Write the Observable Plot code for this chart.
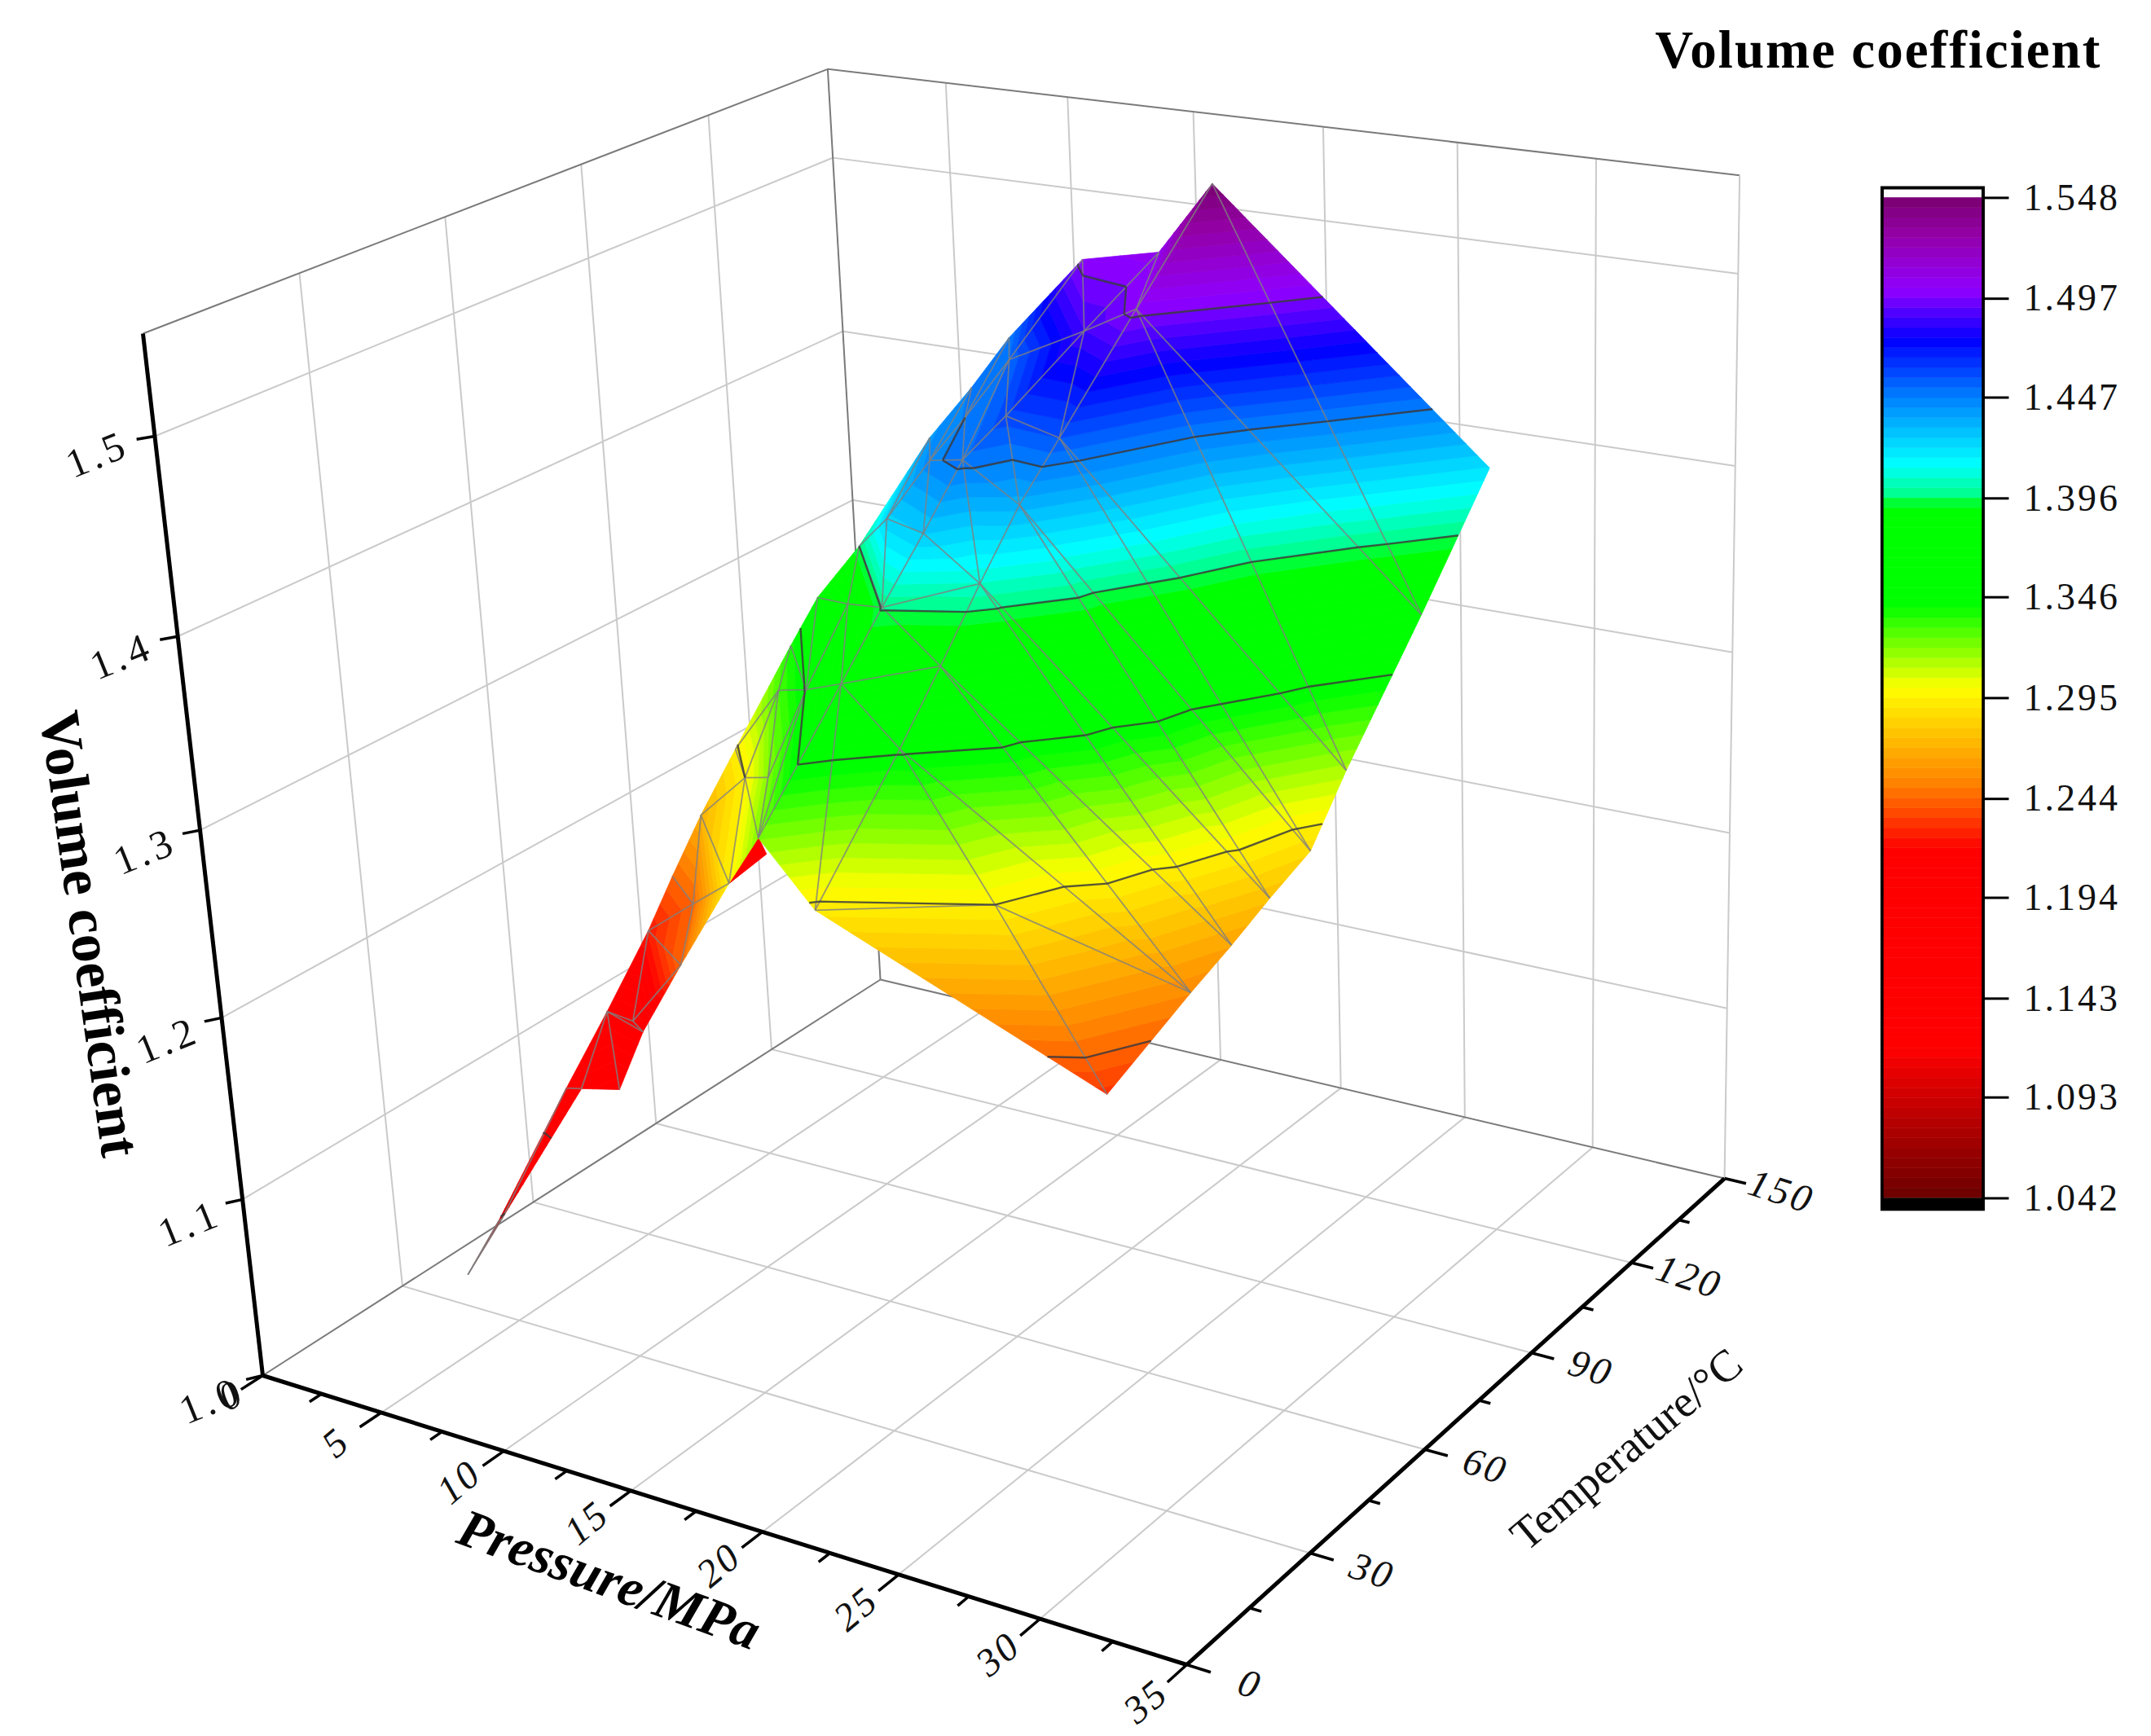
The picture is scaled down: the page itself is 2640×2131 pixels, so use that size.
<!DOCTYPE html>
<html><head><meta charset="utf-8">
<style>html,body{margin:0;padding:0;background:#fff}svg{display:block}</style>
<script src="https://cdn.jsdelivr.net/npm/d3@7"></script>
<script src="https://cdn.jsdelivr.net/npm/@observablehq/plot@0.6"></script>
</head><body><div id="c"></div>
<script>
const pressure=[20.09,29.95,29.93,29.97,30.10,30.08,30.02,29.97,29.80,19.72,19.95,19.92,19.96,20.04,20.06,19.88,24.63,17.55,18.00,17.55,18.01,17.55,17.91,15.14,17.81,17.66,15.12,11.47,13.42,14.35,13.56,11.32,10.85,13.43,15.00,16.21,16.00,13.60,14.52,12.05,12.07,10.14,10.26,9.99,11.91,16.67,14.40,10.17,11.15,11.92,9.99,11.76,11.10,10.22,7.40,7.37,4.89,6.97,5.28,6.57];
const temperature=[119.2,119.5,100.5,79.7,69.2,58.9,49.7,40.0,21.1,101.4,80.0,70.1,59.9,49.6,39.5,20.4,30.9,122.3,99.7,82.8,59.6,52.2,40.2,39.0,21.2,71.5,118.8,122.8,100.7,84.4,71.4,74.2,70.1,110.2,89.0,72.8,63.6,67.8,52.0,59.9,51.1,60.1,50.8,45.1,38.8,20.8,21.9,38.1,28.2,26.1,29.0,21.1,16.7,18.1,15.8,16.8,20.7,73.5,90.7,85.4];
const volume=[1.548,1.421,1.367,1.313,1.286,1.276,1.265,1.255,1.232,1.50,1.457,1.434,1.406,1.377,1.348,1.292,1.295,1.505,1.487,1.46,1.427,1.397,1.374,1.32,1.321,1.45,1.50,1.447,1.447,1.44,1.396,1.36,1.338,1.452,1.447,1.445,1.425,1.37,1.347,1.33,1.295,1.293,1.27,1.244,1.244,1.295,1.244,1.225,1.194,1.194,1.194,1.17,1.175,1.17,1.09,1.09,1.042,1.19,1.19,1.19];
const triangles=[[57,58,59],[54,55,56],[53,55,54],[53,52,55],[50,52,53],[50,51,52],[50,49,51],[50,48,49],[47,48,50],[47,46,48],[48,46,49],[47,44,46],[43,44,47],[42,44,43],[42,45,44],[44,45,46],[42,40,45],[41,40,42],[40,24,45],[40,23,24],[39,23,40],[41,39,40],[32,39,41],[32,38,39],[39,38,23],[38,24,23],[31,38,32],[31,37,38],[37,22,38],[38,22,24],[22,15,24],[22,14,15],[14,16,15],[15,16,8],[14,16,7],[16,8,7],[22,13,14],[21,13,22],[37,21,22],[30,21,37],[31,30,37],[30,36,21],[29,36,30],[29,35,36],[35,20,36],[36,20,21],[20,12,21],[21,12,13],[25,12,20],[25,11,12],[19,11,25],[19,10,11],[18,10,19],[18,9,10],[17,9,18],[17,0,9],[26,17,18],[26,18,33],[18,19,33],[33,19,25],[26,33,27],[27,33,34],[33,25,34],[34,25,35],[25,20,35],[28,34,35],[27,34,28],[28,35,29],[0,1,2],[0,2,9],[9,2,3],[9,3,10],[10,3,4],[10,4,11],[11,4,5],[11,5,12],[12,5,6],[12,6,13],[13,6,7],[13,7,14]];
const pressureMajor=[0,5,10,15,20,25,30,35];
const pressureMinor=[2.5,7.5,12.5,17.5,22.5,27.5,32.5];
const temperatureMajor=[0,30,60,90,120,150];
const temperatureMinor=[15,45,75,105,135];
const volumeAxis=[1.0,1.1,1.2,1.3,1.4,1.5];
const legendTicks=[1.548,1.497,1.447,1.396,1.346,1.295,1.244,1.194,1.143,1.093,1.042];
const colorStops=[1.042,1.118,1.2186,1.251,1.300,1.3415,1.392,1.396,1.413,1.447,1.4755,1.501,1.5287,1.548];
const colorRange=["#6b0000","#ff0000","#ff0000","#ff8000","#ffff00","#00ff00","#00ff00","#00ff80","#00ffff","#0080ff","#0000ff","#8f00ff","#9400a8","#7a0070"];

// perspective camera mapping (pressure, temperature, volume) to the page
const C={a:963.9,b:940.6,c:322,d:116.3,e:-282.8,f:1688,g:-.11684,h:.16903,k1:-161.9,k2:-1313.8,k3:-.085};
const Z0=1.0,Z1=1.55,PM=35,TM=150;
function proj(P,T,V){const u=P/PM,v=T/TM,w=(V-Z0)/(Z1-Z0),D=1+C.g*u+C.h*v+C.k3*w;
 return [(C.a*u+C.b*v+C.k1*w+C.c)/D,(C.d*u+C.e*v+C.k2*w+C.f)/D];}

const vmin=1.042,vmax=1.548,nb=100,step=(vmax-vmin)/nb;
function clip(poly,test,lev){const out=[];for(let i=0;i<poly.length;i++){const p=poly[i],q=poly[(i+1)%poly.length];
 const a=test*(p[2]-lev),b=test*(q[2]-lev);if(a>=0)out.push(p);
 if((a>=0)!==(b>=0)){const t=(lev-p[2])/(q[2]-p[2]);out.push([p[0]+t*(q[0]-p[0]),p[1]+t*(q[1]-p[1]),lev]);}}return out;}
const pieces=[];let id=0;
for(const tr of triangles){const base=tr.map(i=>[pressure[i],temperature[i],volume[i]]);
 for(let b=0;b<nb;b++){const lo=vmin+b*step,hi=lo+step;
  let pg=clip(base,1,lo);if(pg.length<3)continue;pg=clip(pg,-1,hi);if(pg.length<3)continue;
  id++;for(const q of [...pg,pg[0]])pieces.push({id,P:q[0],T:q[1],V:q[2],band:lo+step/2});}}
const edgeMap=new Map();
for(const tr of triangles)for(let i=0;i<3;i++){const a=tr[i],b=tr[(i+1)%3],k=a<b?a+"-"+b:b+"-"+a;const e=edgeMap.get(k)||{a,b,n:0};e.n++;edgeMap.set(k,e);}
const edges=[...edgeMap.values()].filter(e=>e.n>1||e.a===56||e.b===56);
const contours=[];
for(const tr of triangles)for(const lev of legendTicks){const pts=[];for(let i=0;i<3;i++){const a=tr[i],b=tr[(i+1)%3];
 const va=volume[a],vb=volume[b];if((va-lev)*(vb-lev)<0||va===lev&&vb!==lev){const t=(lev-va)/(vb-va);pts.push([pressure[a]+t*(pressure[b]-pressure[a]),temperature[a]+t*(temperature[b]-temperature[a]),lev]);}}
 if(pts.length>=2)contours.push([pts[0],pts[1]]);}

const X=d=>proj(...d)[0],Y=d=>proj(...d)[1];
const seg=(data,o)=>Plot.link(data,{x1:d=>X(d[0]),y1:d=>Y(d[0]),x2:d=>X(d[1]),y2:d=>Y(d[1]),...o});
const gridP=[5,10,15,20,25,30];const gridT=[30,60,90,120];const gridV=[1.1,1.2,1.3,1.4,1.5];
const grid=[];
for(const p of gridP){grid.push([[p,0,Z0],[p,TM,Z0]]);grid.push([[p,TM,Z0],[p,TM,Z1]]);}
for(const t of gridT){grid.push([[0,t,Z0],[PM,t,Z0]]);grid.push([[0,t,Z0],[0,t,Z1]]);}
for(const v of gridV){grid.push([[0,0,v],[0,TM,v]]);grid.push([[0,TM,v],[PM,TM,v]]);}
const boxDark=[[[0,0,Z0],[0,TM,Z0]],[[0,TM,Z0],[PM,TM,Z0]],[[0,TM,Z0],[0,TM,Z1]],[[0,0,Z1],[0,TM,Z1]],[[0,TM,Z1],[PM,TM,Z1]]];
const boxLight=[[[PM,TM,Z0],[PM,TM,Z1]]];
const axes=[[[0,0,Z0],[PM,0,Z0]],[[PM,0,Z0],[PM,TM,Z0]],[[0,0,Z0],[0,0,Z1]]];
const ticks=[...pressureMajor.map(p=>[[p,0,Z0],[p,-4.5,Z0]]),...pressureMinor.map(p=>[[p,0,Z0],[p,-2.5,Z0]]),
 ...temperatureMajor.map(t=>[[PM,t,Z0],[35.8,t,Z0]]),...temperatureMinor.map(t=>[[PM,t,Z0],[35.4,t,Z0]]),
 ...volumeAxis.map(v=>[[0,0,v],[-.3,-2,v]])];
const F="Liberation Serif";
const txt=(data,pos,label,o)=>Plot.text(data,{x:d=>proj(...pos(d))[0],y:d=>proj(...pos(d))[1],text:label,fill:"#111",fontFamily:F,lineAnchor:"middle",...o});

const ly=v=>242.4+(1.548-v)*2427;
const barL=2310,barR=2434;
const bands=d3.range(nb).map(i=>({lo:vmin+i*step,hi:vmin+(i+1)*step,v:vmin+(i+.5)*step}));

const plot=Plot.plot({width:2640,height:2131,margin:0,
 x:{domain:[0,2640],range:[0,2640],axis:null},y:{domain:[0,2131],range:[0,2131],axis:null},
 color:{type:"linear",domain:colorStops,range:colorRange,interpolate:"rgb"},
 style:{background:"#fff",fontFamily:F},
 marks:[
  seg(grid,{stroke:"#cacaca",strokeWidth:2}),
  seg(boxDark,{stroke:"#7a7a7a",strokeWidth:2}),
  seg(boxLight,{stroke:"#cacaca",strokeWidth:2}),
  seg(axes,{stroke:"#000",strokeWidth:5}),
  seg(ticks,{stroke:"#000",strokeWidth:3.5}),
  Plot.line(pieces,{x:d=>proj(d.P,d.T,d.V)[0],y:d=>proj(d.P,d.T,d.V)[1],z:"id",fill:"band",stroke:"band",strokeWidth:.8,curve:"linear"}),
  Plot.link(edges,{x1:e=>proj(pressure[e.a],temperature[e.a],volume[e.a])[0],y1:e=>proj(pressure[e.a],temperature[e.a],volume[e.a])[1],x2:e=>proj(pressure[e.b],temperature[e.b],volume[e.b])[0],y2:e=>proj(pressure[e.b],temperature[e.b],volume[e.b])[1],stroke:"#808080",strokeOpacity:.8,strokeWidth:1.8}),
  seg(contours,{stroke:"#3c3c3c",strokeOpacity:.85,strokeWidth:2.4}),
  txt(pressureMajor.slice(1),d=>[d,-9.4,Z0],d=>String(d),{fontSize:48,fontStyle:"italic",rotate:-40}),
  txt(temperatureMajor,d=>[37.1,d,Z0],d=>String(d),{fontSize:48,fontStyle:"italic",rotate:18}),
  txt(volumeAxis,d=>[-.35,-9,d],d=>d.toFixed(1),{fontSize:50,rotate:-22}),
  txt(["0"],d=>[0,-6.5,Z0],d=>d,{fontSize:48,fontStyle:"italic",rotate:-30}),
  Plot.text(["Pressure/MPa"],{x:747,y:1939,text:d=>d,fontFamily:F,fontWeight:"bold",fontStyle:"italic",fontSize:66,rotate:20,fill:"#000",lineAnchor:"middle"}),
  Plot.text(["Temperature/°C"],{x:1996,y:1779,text:d=>d,fontFamily:F,fontSize:55,rotate:-40,fill:"#111",lineAnchor:"middle"}),
  Plot.text(["Volume coefficient"],{x:109,y:1146,text:d=>d,fontFamily:F,fontWeight:"bold",fontSize:70,rotate:82,fill:"#000",lineAnchor:"middle"}),
  Plot.text(["Volume coefficient "],{x:2314,y:62,text:d=>d,fontFamily:F,fontWeight:"bold",fontSize:65,fill:"#000",lineAnchor:"middle"}),
  Plot.rect([{a:1.5529,b:1.0363}],{x1:barL,x2:barR,y1:d=>ly(d.a),y2:d=>ly(d.b),fill:"#fff",stroke:"#000",strokeWidth:4}),
  Plot.rect(bands,{x1:barL+2,x2:barR-2,y1:d=>ly(d.hi),y2:d=>ly(d.lo),fill:"v",stroke:"v",strokeWidth:.5}),
  Plot.rect([{a:1.042,b:1.0363}],{x1:barL,x2:barR,y1:d=>ly(d.a),y2:d=>ly(d.b),fill:"#000"}),
  Plot.link(legendTicks,{x1:barR,x2:2465,y1:d=>ly(d),y2:d=>ly(d),stroke:"#000",strokeWidth:3}),
  Plot.text(legendTicks,{x:2483,y:d=>ly(d),text:d=>d.toFixed(3),textAnchor:"start",lineAnchor:"middle",fontFamily:F,fontSize:46,fill:"#111"})
 ]});
document.getElementById("c").append(plot);
// letter spacing the library has no text option for
d3.select(plot).selectAll("text").each(function(){const t=this.textContent;
 if(/^\d\.\d{3}$/.test(t))this.style.letterSpacing="3px";
 else if(/^\d\.\d$/.test(t))this.style.letterSpacing="5px";
 else if(/^\d+$/.test(t))this.style.letterSpacing="3px";
 else if(t==="Volume coefficient ")this.style.letterSpacing="2px";});
</script></body></html>
